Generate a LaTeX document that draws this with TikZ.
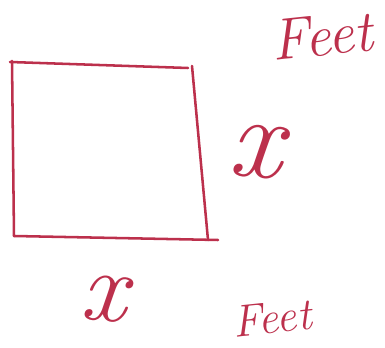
\documentclass[tikz,border=0pt]{standalone}
\usepackage{xcolor}
\definecolor{ink}{RGB}{188,48,76}
\begin{document}
\begin{tikzpicture}[x=0.75pt,y=-0.75pt,
  pen/.style={draw=ink,line width=1.9pt,line cap=round,line join=round},
  hand/.style={text=ink,font=\itshape,inner sep=0pt}]
\useasboundingbox (0,0) rectangle (385,348);
\coordinate (tl) at (12,61);
\coordinate (tr) at (190,68);
\coordinate (br) at (210,240);
\coordinate (bl) at (14,236);
\draw[pen] (tl) -- (14,236);
\draw[pen] (10,62) -- (188,68);
\draw[pen] (192,66) -- (208,240);
\draw[pen] (14,236) -- (218,240);
\node[hand,font=\itshape\fontsize{88}{88}\selectfont,rotate=-5] (xr) at (256,152) {x};
\node[hand,font=\itshape\fontsize{76}{76}\selectfont,rotate=-5] (xb) at (104,299) {x};
\node[hand,font=\itshape\fontsize{44}{44}\selectfont,rotate=6] (ft) at (322,36) {Feet};
\node[hand,font=\itshape\fontsize{34}{34}\selectfont,rotate=6] (fb) at (272,318) {Feet};
\end{tikzpicture}
\end{document}
